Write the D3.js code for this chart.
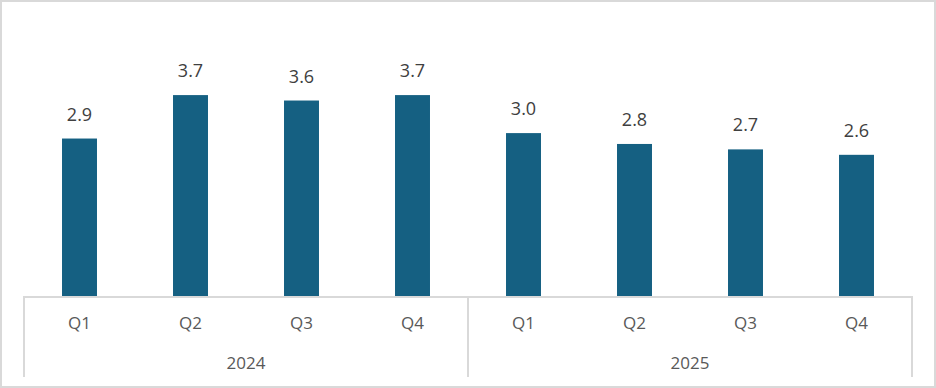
<!DOCTYPE html>
<html>
<head>
<meta charset="utf-8">
<script src="https://cdn.jsdelivr.net/npm/d3@7"></script>
<style>
  body { margin: 0; background: #fff; }
  text { font-family: "Open Sans", "Noto Sans", sans-serif; }
</style>
</head>
<body>
<svg width="936" height="388"></svg>
<script>
// chart data
const years = ["2024", "2025"];
const quarters = ["Q1", "Q2", "Q3", "Q4"];
const values = [2.9, 3.7, 3.6, 3.7, 3.0, 2.8, 2.7, 2.6];

const cats = [];
years.forEach(function(y) {
  quarters.forEach(function(q) { cats.push(y + "-" + q); });
});

const svg = d3.select("svg"),
    width = +svg.attr("width"),
    height = +svg.attr("height");

const lineCol = "#d9d9d9";

// outer frame
svg.append("rect")
  .attr("x", 1).attr("y", 1)
  .attr("width", width - 2).attr("height", height - 2)
  .attr("fill", "#fff")
  .attr("stroke", lineCol)
  .attr("stroke-width", 2);

const left = 24, right = 912, base = 296;

const x = d3.scaleBand()
  .domain(cats)
  .range([left, right])
  .paddingInner(0.685)
  .paddingOuter(0.3425);

const y = d3.scaleLinear()
  .domain([0, 4])
  .range([base, base - 4 * 54.3]);

// bars
svg.append("g")
  .selectAll("rect")
  .data(values)
  .enter()
  .append("rect")
  .attr("x", function(d, i) { return x(cats[i]); })
  .attr("y", function(d) { return y(d); })
  .attr("width", x.bandwidth())
  .attr("height", function(d) { return y(0) - y(d); })
  .attr("fill", "#156082");

// value labels
svg.append("g")
  .selectAll("text")
  .data(values)
  .enter()
  .append("text")
  .attr("x", function(d, i) { return x(cats[i]) + x.bandwidth() / 2; })
  .attr("y", function(d) { return y(d) - 18; })
  .attr("text-anchor", "middle")
  .attr("font-size", 18)
  .attr("fill", "#404040")
  .text(function(d) { return d.toFixed(1); });

// axis lines
const step = x.step();
svg.append("line")
  .attr("x1", left).attr("x2", right)
  .attr("y1", base + 1).attr("y2", base + 1)
  .attr("stroke", lineCol).attr("stroke-width", 2);

const sepX = [left, left + step * 4, right];
svg.append("g")
  .selectAll("line")
  .data(sepX)
  .enter()
  .append("line")
  .attr("x1", function(d) { return d; })
  .attr("x2", function(d) { return d; })
  .attr("y1", base)
  .attr("y2", 377)
  .attr("stroke", lineCol)
  .attr("stroke-width", 2);

// quarter labels
svg.append("g")
  .selectAll("text")
  .data(cats)
  .enter()
  .append("text")
  .attr("x", function(d) { return x(d) + x.bandwidth() / 2; })
  .attr("y", 329)
  .attr("text-anchor", "middle")
  .attr("font-size", 17)
  .attr("fill", "#595959")
  .text(function(d) { return d.split("-")[1]; });

// year labels
svg.append("g")
  .selectAll("text")
  .data(years)
  .enter()
  .append("text")
  .attr("x", function(d, i) { return left + step * 4 * i + step * 2; })
  .attr("y", 369)
  .attr("text-anchor", "middle")
  .attr("font-size", 17)
  .attr("fill", "#595959")
  .text(function(d) { return d; });
</script>
</body>
</html>
